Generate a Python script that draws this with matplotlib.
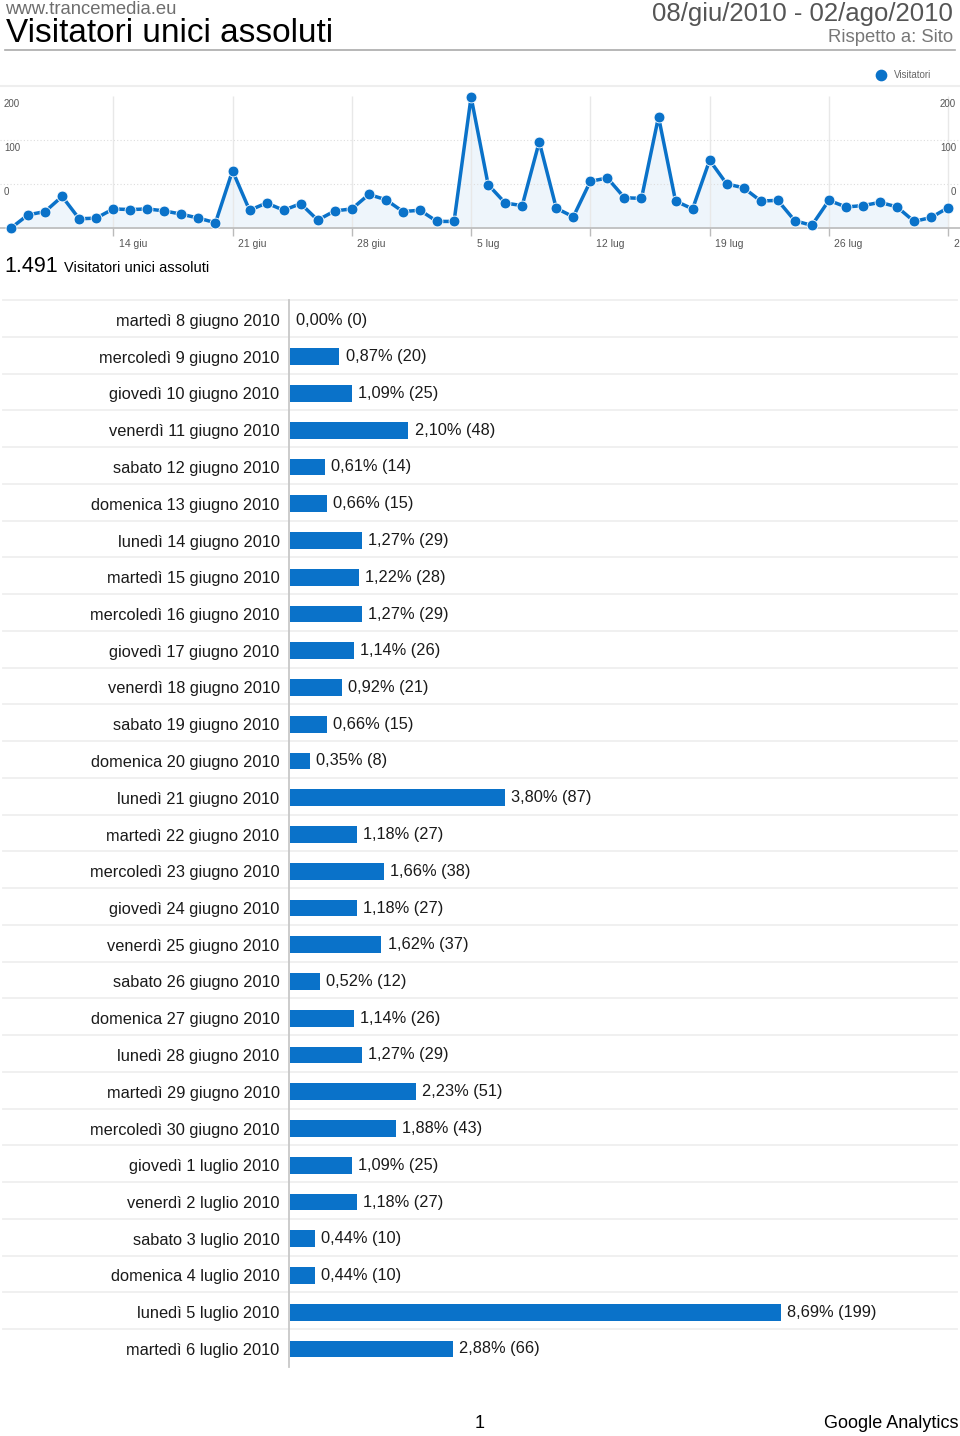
import matplotlib
matplotlib.use('Agg')
import matplotlib.pyplot as plt
import matplotlib.transforms as mtransforms

plt.rcParams['font.family'] = ['Liberation Sans', 'DejaVu Sans']

# ===== Dati =====
days_line = list(range(56))  # 08/giu -> 02/ago
visits_line = [0, 20, 25, 48, 14, 15, 29, 28, 29, 26, 21, 15, 8, 87, 27, 38, 27, 37, 12, 26,
               29, 51, 43, 25, 27, 10, 10, 199, 66,
               38, 34, 131, 30, 17, 71, 76, 46, 45, 169, 41, 29, 103, 67, 61, 41, 42, 11, 4,
               42, 32, 34, 39, 32, 10, 16, 31]
tick_days = [6, 13, 20, 27, 34, 41, 48, 55]
tick_labels = ['14 giu', '21 giu', '28 giu', '5 lug', '12 lug', '19 lug', '26 lug', '2 ago']

bar_dates = ['martedì 8 giugno 2010', 'mercoledì 9 giugno 2010', 'giovedì 10 giugno 2010',
             'venerdì 11 giugno 2010', 'sabato 12 giugno 2010', 'domenica 13 giugno 2010',
             'lunedì 14 giugno 2010', 'martedì 15 giugno 2010', 'mercoledì 16 giugno 2010',
             'giovedì 17 giugno 2010', 'venerdì 18 giugno 2010', 'sabato 19 giugno 2010',
             'domenica 20 giugno 2010', 'lunedì 21 giugno 2010', 'martedì 22 giugno 2010',
             'mercoledì 23 giugno 2010', 'giovedì 24 giugno 2010', 'venerdì 25 giugno 2010',
             'sabato 26 giugno 2010', 'domenica 27 giugno 2010', 'lunedì 28 giugno 2010',
             'martedì 29 giugno 2010', 'mercoledì 30 giugno 2010', 'giovedì 1 luglio 2010',
             'venerdì 2 luglio 2010', 'sabato 3 luglio 2010', 'domenica 4 luglio 2010',
             'lunedì 5 luglio 2010', 'martedì 6 luglio 2010']
bar_values = [0, 20, 25, 48, 14, 15, 29, 28, 29, 26, 21, 15, 8, 87, 27, 38, 27, 37, 12, 26,
              29, 51, 43, 25, 27, 10, 10, 199, 66]
bar_pct = [0.00, 0.87, 1.09, 2.10, 0.61, 0.66, 1.27, 1.22, 1.27, 1.14, 0.92, 0.66, 0.35, 3.80,
           1.18, 1.66, 1.18, 1.62, 0.52, 1.14, 1.27, 2.23, 1.88, 1.09, 1.18, 0.44, 0.44, 8.69, 2.88]

BLUE = '#0a72c9'
W, H = 960, 1436
DAY_PX = 17.04

fig = plt.figure(figsize=(W / 100, H / 100), dpi=100)
fig.patch.set_facecolor('white')


def px_axes(x0, y0, x1, y1, **kw):
    """axes in pixel box (y dall'alto)"""
    return fig.add_axes([x0 / W, 1 - y1 / H, (x1 - x0) / W, (y1 - y0) / H], **kw)


# ===== overlay (testi, linee di separazione) =====
ov = px_axes(0, 0, W, H)
ov.set_xlim(0, W)
ov.set_ylim(H, 0)
ov.axis('off')
ov.set_zorder(5)

ov.text(5, 9, 'www.trancemedia.eu', fontsize=13.3, color='#6e6e6e', va='center', ha='left')
ov.text(6, 33, 'Visitatori unici assoluti', fontsize=24, color='black', va='center', ha='left')
ov.text(953, 14, '08/giu/2010 - 02/ago/2010', fontsize=18.5, color='#555555', va='center', ha='right')
ov.text(953, 38, 'Rispetto a: Sito', fontsize=13.3, color='#777777', va='center', ha='right')
ov.plot([5, 955], [50, 50], color='#aaaaaa', lw=1.2)

# legenda
ov.scatter([881], [75], s=55, color=BLUE, zorder=3)
ov.text(894, 75.5, 'Visitatori', fontsize=7, color='#666666', va='center', ha='left')
ov.plot([0, 960], [86, 86], color='#eeeeee', lw=1.5)

# etichette asse y (come nell'originale)
for yy, lab in [(104, '200'), (148, '100'), (192, '0')]:
    ov.text(4, yy, lab, fontsize=7, color='#555555', va='center', ha='left')
    ov.text(956, yy, lab, fontsize=7, color='#555555', va='center', ha='right')

ov.text(4, 266, '1.491', fontsize=15.5, color='black', va='center', ha='left')
ov.text(64, 268, 'Visitatori unici assoluti', fontsize=10.5, color='black', va='center', ha='left')

# separatori righe tabella
for k in range(29):
    yy = 300 + k * 36.75
    ov.plot([3, 957], [yy, yy], color='#efefef', lw=1.3)
ov.plot([289, 289], [300, 1367], color='#c8c8c8', lw=1.3)

ov.text(480, 1423, '1', fontsize=13, color='black', va='center', ha='center')
ov.text(959, 1423, 'Google Analytics', fontsize=13, color='black', va='center', ha='right')

# ===== grafico a linee =====
axl = px_axes(0, 86, W, 228)
axl.patch.set_alpha(0)
axl.set_xlim(-11 / DAY_PX, (W - 11) / DAY_PX)
axl.set_ylim(0, 142 / 0.658)
for s in ['top', 'left', 'right']:
    axl.spines[s].set_visible(False)
axl.spines['bottom'].set_color('#bbbbbb')
axl.spines['bottom'].set_linewidth(1.2)
axl.set_yticks([])
for gy in [200 / 3, 400 / 3]:
    axl.axhline(gy, color='#dddddd', lw=0.8, ls=(0, (1, 2)))
axl.vlines(tick_days, 0, 200, color='#e8e8e8', lw=1.0)
axl.fill_between(days_line, visits_line, 0, color='#eef5fb', zorder=1)
axl.plot(days_line, visits_line, color=BLUE, lw=2.5, marker='o', ms=7.8,
         markeredgecolor='white', markeredgewidth=0.6, clip_on=False, zorder=3)
axl.set_xticks(tick_days)
axl.set_xticklabels(tick_labels, fontsize=7.5, color='#555555')
axl.tick_params(axis='x', direction='out', length=6, width=1, color='#bbbbbb', pad=2)
off = mtransforms.ScaledTranslation(4 / 72, 0, fig.dpi_scale_trans)
for lab in axl.get_xticklabels():
    lab.set_horizontalalignment('left')
    lab.set_transform(lab.get_transform() + off)

# ===== tabella a barre =====
axb = px_axes(290, 300, W, 1367)
axb.patch.set_alpha(0)
axb.set_xlim(0, 670 / 2.467)
axb.set_ylim(28 + (1367 - 320 - 28 * 36.75) / 36.75, -20 / 36.75)
for s in axb.spines.values():
    s.set_visible(False)
ypos = list(range(len(bar_values)))
axb.barh(ypos, bar_values, height=0.46, color=BLUE, left=0)
axb.set_xticks([])
axb.set_yticks(ypos)
axb.set_yticklabels(bar_dates, fontsize=11.8, color='#1a1a1a')
axb.tick_params(axis='y', length=0, pad=7.5)
for i, (v, p) in enumerate(zip(bar_values, bar_pct)):
    txt = f"{p:.2f}".replace('.', ',') + f"% ({v})"
    axb.annotate(txt, (v, i), xytext=(4.5, 0), textcoords='offset points',
                 fontsize=11.8, color='#1a1a1a', va='center', ha='left')

fig.savefig('out.png', dpi=100, facecolor='white')
plt.close()
